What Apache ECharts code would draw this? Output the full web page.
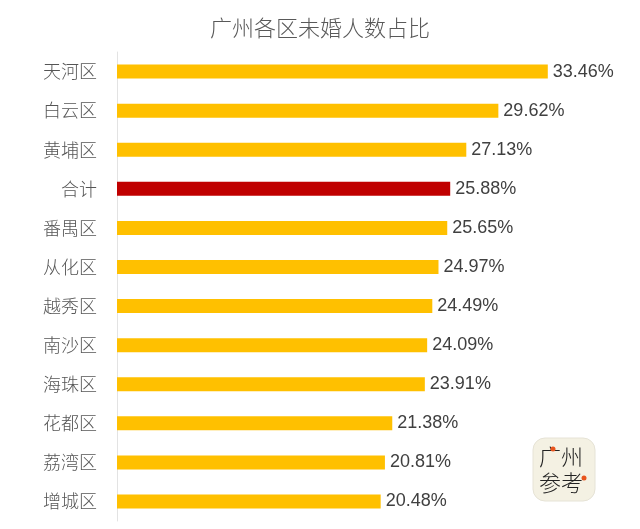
<!DOCTYPE html>
<html><head><meta charset="utf-8">
<script src="https://cdn.jsdelivr.net/npm/echarts@6/dist/echarts.min.js"></script>
<style>html,body{margin:0;padding:0;background:#fff}#c{width:640px;height:529px}</style>
</head><body><div id="c"></div>
<script>
const categories = ['天河区','白云区','黄埔区','合计','番禺区','从化区','越秀区','南沙区','海珠区','花都区','荔湾区','增城区'];
const values = [33.46,29.62,27.13,25.88,25.65,24.97,24.49,24.09,23.91,21.38,20.81,20.48];
const highlight = '合计';

const chart = echarts.init(document.getElementById('c'), null, {renderer:'canvas'});
const font = '"Noto Sans CJK SC", "Liberation Sans", sans-serif';
chart.setOption({
  animation:false,
  backgroundColor:'#fff',
  title:{text:'广州各区未婚人数占比', left:'center', top:12,
    textStyle:{fontFamily:font, fontSize:22, fontWeight:300, color:'#595959'}},
  grid:{left:117, top:52, width:515, height:469},
  xAxis:{type:'value', min:0, max:40, show:false},
  yAxis:{type:'category', data:categories, inverse:true,
    axisLine:{show:true, lineStyle:{color:'#e3e3e3', width:1}},
    axisTick:{show:false},
    axisLabel:{margin:20, fontFamily:font, fontSize:18, fontWeight:300, color:'#555555'}},
  series:[{type:'bar', barWidth:14,
    data:values.map((v,i)=>({value:v, itemStyle:{color: categories[i]===highlight ? '#C00000' : '#FFC000'}})),
    label:{show:true, position:'right', distance:5, formatter:p=>p.value.toFixed(2)+'%',
      fontFamily:'"Liberation Sans", Arial, sans-serif', fontSize:18, color:'#404040'}}],
  graphic:[
    {type:'rect', shape:{x:533,y:438,width:62,height:63,r:12}, style:{fill:'#f4f1e3', stroke:'#e6e3d6', lineWidth:1}},
    {type:'text', x:539, y:446, style:{text:'广州', font:'300 22px "Noto Sans CJK SC"', fill:'#222', letterSpacing:8}},
    {type:'text', x:539, y:472, style:{text:'参考', font:'300 22px "Noto Sans CJK SC"', fill:'#222', letterSpacing:8}},
    {type:'circle', shape:{cx:553, cy:449, r:2.5}, style:{fill:'#e8541c'}},
    {type:'circle', shape:{cx:584, cy:478, r:2.5}, style:{fill:'#e8541c'}}
  ]
});
</script></body></html>
